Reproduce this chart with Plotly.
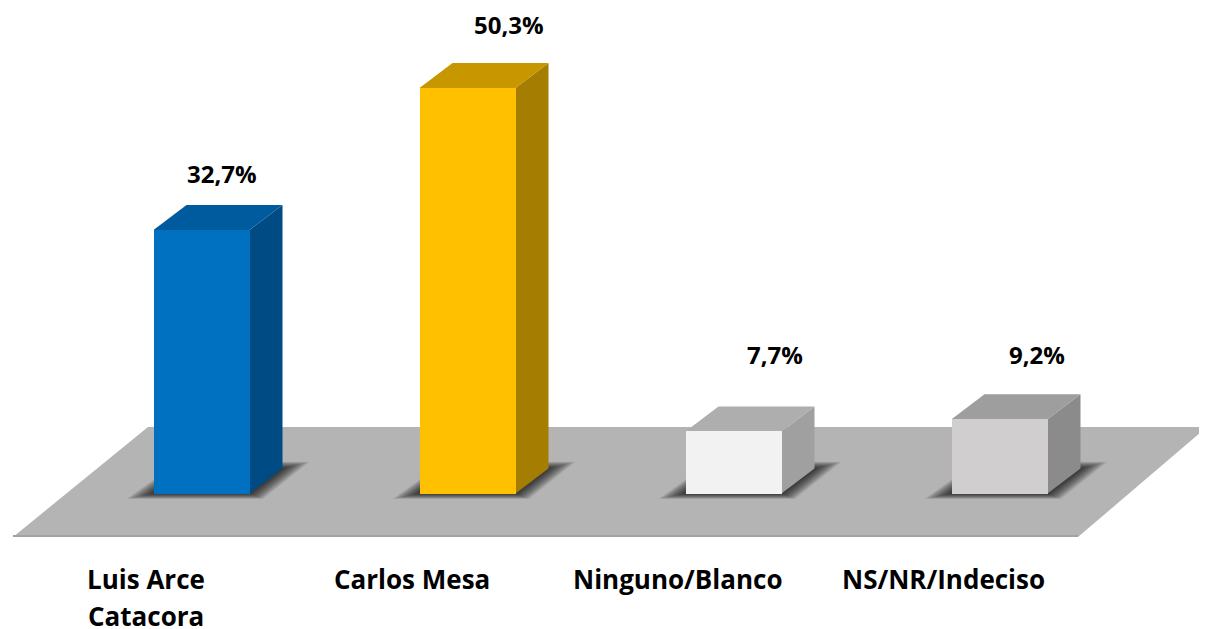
import plotly.graph_objects as go

# ---------------- data ----------------
categories = ["Luis Arce<br>Catacora", "Carlos Mesa", "Ninguno/Blanco", "NS/NR/Indeciso"]
values = [32.7, 50.3, 7.7, 9.2]
value_labels = ["32,7%", "50,3%", "7,7%", "9,2%"]

# ---------------- style ----------------
front_colors = ["#0070C0", "#FFC000", "#F2F2F2", "#D0CECE"]
top_colors = ["#005A9E", "#C89700", "#AEAEAE", "#9E9E9E"]
side_colors = ["#004B84", "#A57D00", "#A0A0A0", "#8B8B8B"]
label_xshift = [20, 41, 41, 37]
label_yshift = [56, 64, 77, 65]

PAGE_OFF = 8       # default body margin of the html page
W, H = 1207 - PAGE_OFF, 629 - PAGE_OFF
X0_PX = 201.5      # pixel (page) of first category centre
STEP_PX = 266      # pixels between categories
ZERO_PX = 493.5    # pixel row (page) of value 0
YSCALE = 8.06      # pixels per percentage point
BAR_W_PX = 96
DEPTH_X_PX = 33
DEPTH_Y_PX = 25

x0f = X0_PX - PAGE_OFF
z0f = ZERO_PX - PAGE_OFF
x_range = [(0 - x0f) / STEP_PX, (W - x0f) / STEP_PX]
y_range = [-(H - z0f) / YSCALE, z0f / YSCALE]


def dx(px):
    return px / STEP_PX


def dy(px):
    return px / YSCALE


def xd(px):
    return (px - X0_PX) / STEP_PX


def yd(py):
    return (ZERO_PX - py) / YSCALE


def path(pts):
    return "M " + " L ".join(f"{x:.5f},{y:.5f}" for x, y in pts) + " Z"


FONT = "Open Sans"
shapes = []

# floor
floor = [(xd(13), yd(537)), (xd(1078), yd(537)), (xd(1207), yd(427)), (xd(148), yd(427))]
shapes.append(dict(type="path", path=path(floor), xref="x", yref="y", layer="below",
                   fillcolor="#B4B4B4", line=dict(width=0)))
shapes.append(dict(type="line", xref="x", yref="y", layer="below",
                   x0=xd(13), y0=yd(536), x1=xd(1078), y1=yd(536),
                   line=dict(color="#A2A2A2", width=2)))

BW = dx(BAR_W_PX)
DX = dx(DEPTH_X_PX)
DY = dy(DEPTH_Y_PX)

# soft (blurred) shadows under each bar
for i, v in enumerate(values):
    L = i - BW / 2
    R = i + BW / 2
    for e in range(1, 29, 2):
        pts = [(L - dx(e), -dy(e * 0.2)),
               (R + dx(e * 0.5), -dy(e * 0.2)),
               (R + DX + dx(e), DY + dy(e * 0.25)),
               (L + DX - dx(e * 0.3), DY + dy(e * 0.25))]
        shapes.append(dict(type="path", path=path(pts), xref="x", yref="y", layer="below",
                           fillcolor="rgba(0,0,0,0.075)", line=dict(width=0)))

# side and top faces of the 3D bars
for i, v in enumerate(values):
    L = i - BW / 2
    R = i + BW / 2
    side = [(R, 0), (R + DX, DY), (R + DX, v + DY), (R, v)]
    top = [(L, v), (R, v), (R + DX, v + DY), (L + DX, v + DY)]
    shapes.append(dict(type="path", path=path(side), xref="x", yref="y", layer="below",
                       fillcolor=side_colors[i], line=dict(width=0)))
    shapes.append(dict(type="path", path=path(top), xref="x", yref="y", layer="below",
                       fillcolor=top_colors[i], line=dict(width=0)))

fig = go.Figure()
fig.add_trace(go.Bar(
    x=list(range(len(values))), y=values, width=BW,
    marker=dict(color=front_colors, line=dict(width=0)),
    hoverinfo="skip",
))

annotations = []
for i, v in enumerate(values):
    annotations.append(dict(
        x=i, y=v, xref="x", yref="y", text=f"<b>{value_labels[i]}</b>",
        showarrow=False, xanchor="center", yanchor="middle",
        xshift=label_xshift[i], yshift=label_yshift[i],
        font=dict(family=FONT, size=24, color="#000000"),
    ))
    for k, line in enumerate(categories[i].split("<br>")):
        annotations.append(dict(
            x=i, y=yd(578.5), xref="x", yref="y", text=f"<b>{line}</b>",
            showarrow=False, xanchor="center", yanchor="middle",
            xshift=-56, yshift=-37 * k,
            font=dict(family=FONT, size=26, color="#000000"),
        ))

fig.update_layout(
    width=W, height=H, autosize=False,
    margin=dict(l=0, r=0, t=0, b=0),
    paper_bgcolor="white", plot_bgcolor="white",
    showlegend=False,
    bargap=0,
    xaxis=dict(range=x_range, visible=False, fixedrange=True),
    yaxis=dict(range=y_range, visible=False, fixedrange=True),
    shapes=shapes,
    annotations=annotations,
)

fig.write_html("out.html")
